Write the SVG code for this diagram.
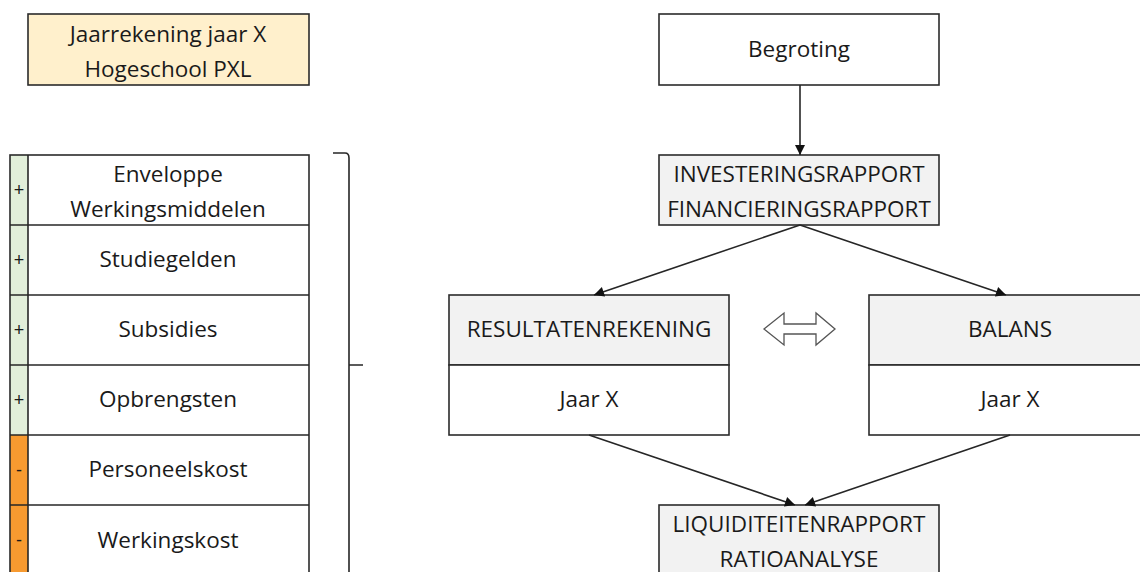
<svg xmlns="http://www.w3.org/2000/svg" width="1140" height="572" viewBox="0 0 1140 572">
<style>
.box{stroke:#2b2b2b;stroke-width:1.6;fill:#fff}
.grey{fill:#f2f2f2}
.t{font-family:"Open Sans","Liberation Sans",Arial,sans-serif;font-size:22.5px;fill:#1a1a1a;text-anchor:middle}
.s{font-family:"Liberation Sans",Arial,sans-serif;font-size:18px;fill:#1a1a1a;text-anchor:middle}
.ln{stroke:#262626;stroke-width:1.6;fill:none}
</style>
<defs>
<marker id="ah" viewBox="0 0 10 10" refX="10" refY="5" markerWidth="11" markerHeight="10" markerUnits="userSpaceOnUse" orient="auto">
<path d="M0,0 L10,5 L0,10 z" fill="#111"/>
</marker>
</defs>
<rect width="1140" height="572" fill="#fff"/>

<g id="title">
<rect class="box" x="28" y="14" width="281" height="71" style="fill:#fff0cc"/>
<text class="t" x="168" y="42">Jaarrekening jaar X</text>
<text class="t" x="168" y="77">Hogeschool PXL</text>
</g>

<g id="table">
<rect x="10" y="155" width="18" height="280" fill="#e2efda"/>
<rect x="10" y="435" width="18" height="140" fill="#f79a30"/>
<rect class="box" x="10" y="155" width="299" height="420" style="fill:none"/>
<line class="ln" x1="28" y1="155" x2="28" y2="575"/>
<line class="ln" x1="10" y1="225" x2="309" y2="225"/>
<line class="ln" x1="10" y1="295" x2="309" y2="295"/>
<line class="ln" x1="10" y1="365" x2="309" y2="365"/>
<line class="ln" x1="10" y1="435" x2="309" y2="435"/>
<line class="ln" x1="10" y1="505" x2="309" y2="505"/>
<text class="s" x="19" y="196">+</text>
<text class="s" x="19" y="266">+</text>
<text class="s" x="19" y="336">+</text>
<text class="s" x="19" y="406">+</text>
<text class="s" x="19" y="476">-</text>
<text class="s" x="19" y="546">-</text>
<text class="t" x="168" y="182">Enveloppe</text>
<text class="t" x="168" y="217">Werkingsmiddelen</text>
<text class="t" x="168" y="267">Studiegelden</text>
<text class="t" x="168" y="337">Subsidies</text>
<text class="t" x="168" y="407">Opbrengsten</text>
<text class="t" x="168" y="477">Personeelskost</text>
<text class="t" x="168" y="548">Werkingskost</text>
</g>

<g id="bracket">
<path class="ln" d="M333,153 L345,153 Q349,153 349,158 L349,575 M349,365 L363,365"/>
</g>

<g id="begroting">
<rect class="box" x="659" y="14" width="280" height="71"/>
<text class="t" x="799" y="57">Begroting</text>
</g>

<g id="investering">
<rect class="box grey" x="659" y="155" width="280" height="70"/>
<text class="t" x="799" y="182">INVESTERINGSRAPPORT</text>
<text class="t" x="799" y="217">FINANCIERINGSRAPPORT</text>
</g>

<g id="resultaten">
<rect class="box grey" x="449" y="295" width="280" height="70"/>
<rect class="box" x="449" y="365" width="280" height="70"/>
<text class="t" x="589" y="337">RESULTATENREKENING</text>
<text class="t" x="589" y="407">Jaar X</text>
</g>

<g id="balans">
<rect class="box grey" x="869" y="295" width="282" height="70"/>
<rect class="box" x="869" y="365" width="282" height="70"/>
<text class="t" x="1010" y="337">BALANS</text>
<text class="t" x="1010" y="407">Jaar X</text>
</g>

<g id="liquiditeit">
<rect class="box grey" x="659" y="505" width="280" height="80"/>
<text class="t" x="799" y="532">LIQUIDITEITENRAPPORT</text>
<text class="t" x="799" y="567">RATIOANALYSE</text>
</g>

<g id="dubbelpijl">
<path d="M764,329 L784,313 L784,324 L816,324 L816,313 L835,329 L816,345 L816,334 L784,334 L784,345 Z" fill="#fff" stroke="#555" stroke-width="1.3"/>
</g>

<g id="connectors">
<line class="ln" x1="800" y1="85" x2="800" y2="155" marker-end="url(#ah)"/>
<line class="ln" x1="800" y1="225" x2="594" y2="295" marker-end="url(#ah)"/>
<line class="ln" x1="800" y1="225" x2="1006" y2="295" marker-end="url(#ah)"/>
<line class="ln" x1="589" y1="435" x2="795" y2="505" marker-end="url(#ah)"/>
<line class="ln" x1="1010" y1="435" x2="805" y2="505" marker-end="url(#ah)"/>
</g>
</svg>
